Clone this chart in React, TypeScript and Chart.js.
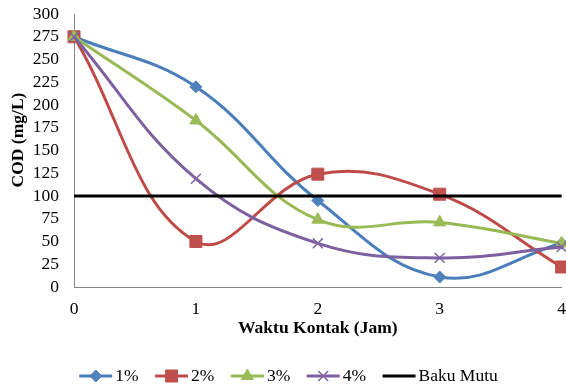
import React, { useEffect, useRef } from 'react';
import { Chart, registerables } from 'chart.js';
import * as helpers from 'chart.js/helpers';

Chart.register(...registerables);

const xLabels = ['0', '1', '2', '3', '4'];
const seriesNames = ['1%', '2%', '3%', '4%', 'Baku Mutu'];
const cod1 = [275, 220, 95, 11, 48];
const cod2 = [275, 50, 124, 102, 22];
const cod3 = [275, 183, 74, 71, 48];
const cod4 = [275, 119, 48, 32, 44];
const bakuMutu = [100, 100, 100, 100, 100];
const yMin = 0;
const yMax = 300;
const yStep = 25;
const xTitle = 'Waktu Kontak (Jam)';
const yTitle = 'COD (mg/L)';

const FONT = '"Liberation Serif", "Times New Roman", serif';
const FS = 17.5;

const yTitlePlugin = {
  id: 'yTitle',
  afterDraw(chart: any) {
    const ctx = chart.ctx as CanvasRenderingContext2D;
    ctx.save();
    ctx.translate(18, 140);
    ctx.rotate(-Math.PI / 2);
    ctx.font = `bold ${FS}px ${FONT}`;
    ctx.fillStyle = '#000';
    ctx.textAlign = 'center';
    ctx.textBaseline = 'middle';
    ctx.fillText(yTitle, 0, 0);
    ctx.restore();
  },
};

const legendPlugin = {
  id: 'excelLegend',
  afterDraw(chart: any) {
    const ctx = chart.ctx as CanvasRenderingContext2D;
    ctx.save();
    ctx.font = `${FS}px ${FONT}`;
    const lineLen = 33;
    const gapText = 3;
    const gapItem = 16.5;
    const items = chart.data.datasets.map((ds: any) => ({ ds, w: ctx.measureText(ds.label).width }));
    const total = items.reduce((a: number, it: any) => a + lineLen + gapText + it.w, 0) + gapItem * (items.length - 1);
    let x = 288.5 - total / 2;
    const y = 376;
    for (const it of items) {
      const ds = it.ds;
      ctx.strokeStyle = ds.borderColor;
      ctx.lineWidth = ds.borderWidth;
      ctx.beginPath();
      ctx.moveTo(x, y);
      ctx.lineTo(x + lineLen, y);
      ctx.stroke();
      if (ds.pointRadius > 0) {
        ctx.fillStyle = ds.pointBackgroundColor;
        ctx.strokeStyle = ds.pointBorderColor;
        ctx.lineWidth = ds.pointBorderWidth;
        helpers.drawPoint(ctx, { pointStyle: ds.pointStyle, rotation: 0, radius: ds.pointRadius, borderWidth: ds.pointBorderWidth }, x + lineLen / 2, y);
      }
      ctx.fillStyle = '#000';
      ctx.textBaseline = 'middle';
      ctx.textAlign = 'left';
      ctx.fillText(ds.label, x + lineLen + gapText, y);
      x += lineLen + gapText + it.w + gapItem;
    }
    ctx.restore();
  },
};

export default function App() {
  const ref = useRef<HTMLCanvasElement>(null);
  useEffect(() => {
    if (!ref.current) return;
    const mk = (i: number, data: number[], line: string, mark: string, style: string, r: number, bw: number) => ({
      label: seriesNames[i],
      data,
      borderColor: line,
      backgroundColor: mark,
      borderWidth: 3,
      pointStyle: style,
      pointRadius: r,
      pointBackgroundColor: mark,
      pointBorderColor: mark,
      pointBorderWidth: bw,
      tension: 0.4,
      order: -i,
    });
    const chart = new Chart(ref.current, {
      type: 'line',
      data: {
        labels: xLabels,
        datasets: [
          mk(0, cod1, '#4A7EBB', '#4F81BD', 'rectRot', 6, 1),
          mk(1, cod2, '#BE4B48', '#C0504D', 'rect', 8.5, 1),
          mk(2, cod3, '#98B954', '#9BBB59', 'triangle', 7, 1),
          mk(3, cod4, '#7D60A0', '#8064A2', 'crossRot', 7, 1.5),
          {
            label: seriesNames[4],
            data: bakuMutu,
            borderColor: '#000000',
            backgroundColor: '#000000',
            borderWidth: 3,
            pointRadius: 0,
            pointBorderWidth: 0,
            tension: 0,
            order: -4,
          } as any,
        ],
      },
      options: {
        responsive: false,
        animation: false,
        layout: { padding: { left: 4, top: 14, right: 0, bottom: 45 } },
        plugins: { legend: { display: false }, tooltip: { enabled: false } },
        scales: {
          x: {
            grid: { display: false, drawTicks: false },
            border: { display: true, color: '#868686', width: 1 },
            ticks: { color: '#000', font: { family: FONT, size: FS }, padding: 12, maxRotation: 0 },
            title: { display: true, text: xTitle, color: '#000', font: { family: FONT, size: FS, weight: 'bold' } },
            afterFit: (s: any) => { s.height = 56; },
          },
          y: {
            min: yMin,
            max: yMax,
            grid: { display: false, drawTicks: false },
            border: { display: true, color: '#868686', width: 1 },
            ticks: { stepSize: yStep, maxTicksLimit: 20, autoSkip: false, color: '#000', font: { family: FONT, size: FS }, padding: 15 },
            title: { display: false, text: yTitle },
            afterFit: (s: any) => { s.width = 70; s.paddingTop = 0; s.paddingBottom = 0; },
          },
        },
      } as any,
      plugins: [legendPlugin, yTitlePlugin],
    });
    return () => chart.destroy();
  }, []);
  return (
    <div style={{ position: 'absolute', left: 0, top: 0, width: 566, height: 388, overflow: 'hidden' }}>
      <canvas ref={ref} width={578} height={388} style={{ display: 'block' }} />
    </div>
  );
}
